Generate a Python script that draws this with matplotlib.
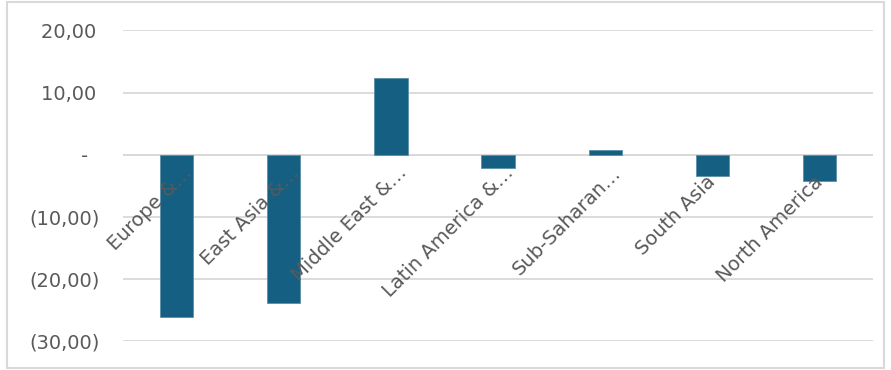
import matplotlib
matplotlib.use("Agg")
import matplotlib.pyplot as plt
import matplotlib.transforms as mtransforms
from matplotlib.patches import Rectangle

regions = ["Europe &…", "East Asia &…", "Middle East &…", "Latin America &…",
           "Sub-Saharan…", "South Asia", "North America"]
values = [-26.1, -23.9, 12.3, -2.2, 0.75, -3.5, -4.2]
y_ticks = [-30, -20, -10, 0, 10, 20]

bar_color = "#156082"
text_color = "#595959"
grid_color = "#d9d9d9"

plt.rcParams["font.family"] = ["DejaVu Sans"]

fig = plt.figure(figsize=(8.91, 3.70), dpi=100)
ax = fig.add_axes([0.138, 0.0784, 0.842, 0.8392])

x = list(range(len(regions)))
ax.bar(x, values, width=0.31, color=bar_color, edgecolor="#5b8fa8",
       linewidth=0.6, zorder=3)

ax.set_xlim(-0.5, len(regions) - 0.5)
ax.set_ylim(-30, 20)


def accounting(v):
    if v == 0:
        return "-\u2007"
    if v < 0:
        return f"({abs(v):.2f})".replace(".", ",")
    return f"{v:.2f}".replace(".", ",") + "\u2009"


ax.set_yticks(y_ticks)
ax.set_yticklabels([accounting(v) for v in y_ticks])
ax.tick_params(axis="y", length=0, pad=16.5, labelsize=14, labelcolor=text_color)
ax.set_xticks([])
ax.yaxis.grid(True, color=grid_color, linewidth=1.3, zorder=0)
for s in ax.spines.values():
    s.set_visible(False)
ax.axhline(0, color=grid_color, linewidth=1.3, zorder=1)

# category labels hang from the zero line, rotated 45 degrees;
# shortened names end a little higher than full ones
for xi, lab in zip(x, regions):
    dx, dy = (16.5, -19) if lab.endswith("…") else (4, -28)
    offset = mtransforms.ScaledTranslation(dx / 100, dy / 100, fig.dpi_scale_trans)
    ax.text(xi, 0, lab, rotation=45, rotation_mode="anchor", ha="right",
            va="baseline", fontsize=14, color=text_color,
            transform=ax.transData + offset, zorder=4)

# chart area border
fig.patches.append(Rectangle((7 / 891, 2 / 370), 877 / 891, 366 / 370,
                             transform=fig.transFigure, fill=False,
                             edgecolor=grid_color, linewidth=1.5))

fig.savefig("out.png", dpi=100)
